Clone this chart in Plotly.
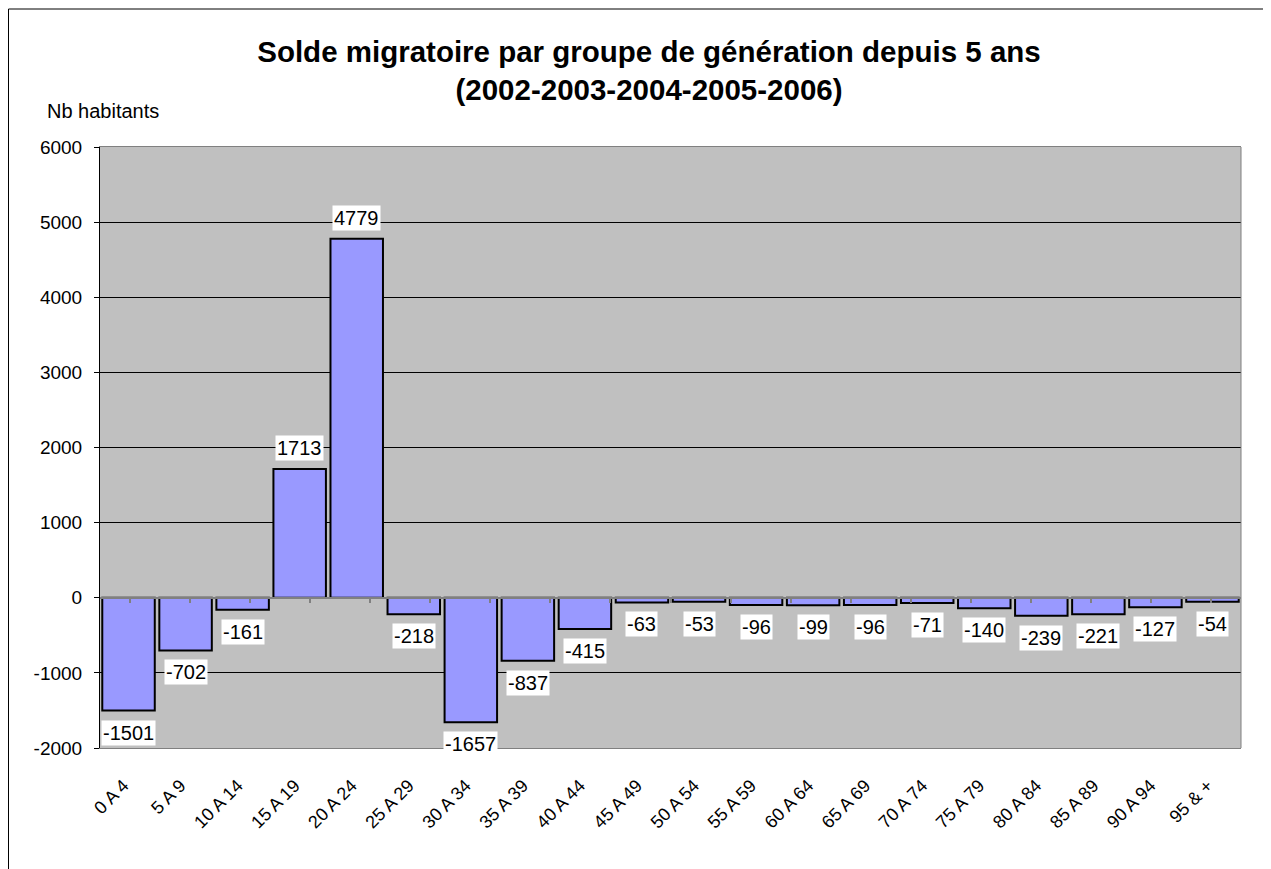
import plotly.graph_objects as go

categories = ["0 A 4", "5 A 9", "10 A 14", "15 A 19", "20 A 24", "25 A 29", "30 A 34",
              "35 A 39", "40 A 44", "45 A 49", "50 A 54", "55 A 59", "60 A 64", "65 A 69",
              "70 A 74", "75 A 79", "80 A 84", "85 A 89", "90 A 94", "95 & +"]
values = [-1501, -702, -161, 1713, 4779, -218, -1657, -837, -415, -63, -53, -96, -99, -96,
          -71, -140, -239, -221, -127, -54]
y_ticks = [-2000, -1000, 0, 1000, 2000, 3000, 4000, 5000, 6000]
y_tick_text = [str(v) for v in y_ticks]

# the page body adds an 8px offset, so the figure is 8px smaller than the window
W, H = 1263, 861
ML, MR, MT, MB = 92, 30, 139, 121
PW, PH = W - ML - MR, H - MT - MB
FONT = "Liberation Sans, Arial, sans-serif"


def px_x(px):
    return (px - ML) / PW


def px_y(py):
    return (H - MB - py) / PH


fig = go.Figure()
fig.add_trace(go.Bar(
    x=categories, y=values,
    marker=dict(color="#9999FF", line=dict(color="black", width=2)),
    hoverinfo="x+y",
))
# invisible trace for the category axis crossing at zero
fig.add_trace(go.Scatter(x=categories, y=values, mode="none", xaxis="x2",
                         hoverinfo="skip", showlegend=False))

for c, v in zip(categories, values):
    fig.add_annotation(x=c, y=v, text=str(v), showarrow=False,
                       yshift=21 if v > 0 else -22,
                       bgcolor="white", borderpad=1,
                       font=dict(family=FONT, size=20, color="black"))

fig.add_annotation(xref="paper", yref="paper", x=px_x(37), y=px_y(103),
                   xanchor="left", yanchor="middle", showarrow=False,
                   text="Nb habitants", font=dict(family=FONT, size=20, color="black"))

# outer chart frame
fig.add_shape(type="rect", xref="paper", yref="paper",
              x0=px_x(0.5), x1=1.2, y0=px_y(1), y1=-0.5,
              line=dict(color="black", width=1), fillcolor="rgba(0,0,0,0)", layer="below")
# right border of plot area
fig.add_shape(type="line", xref="paper", yref="paper", x0=1, x1=1, y0=0, y1=1,
              line=dict(color="#808080", width=1))

fig.update_layout(
    width=W, height=H,
    margin=dict(l=ML, r=MR, t=MT, b=MB, pad=0),
    paper_bgcolor="white", plot_bgcolor="#C0C0C0",
    bargap=0.08, showlegend=False,
    font=dict(family=FONT, color="black"),
    title=dict(text="<b>Solde migratoire par groupe de génération depuis 5 ans<br>(2002-2003-2004-2005-2006)</b>",
               x=641 / W, xanchor="center", y=1 - 54 / H, yanchor="top",
               font=dict(family=FONT, size=29.5, color="black")),
    xaxis=dict(type="category", tickangle=-45, showgrid=False, zeroline=False,
               showline=True, linecolor="#808080", linewidth=1, mirror=True,
               ticks="outside", ticklen=19, tickcolor="rgba(0,0,0,0)", ticklabelshift=-5,
               tickfont=dict(family=FONT, size=18, color="black")),
    xaxis2=dict(type="category", overlaying="x", anchor="free",
                position=2000 / 8000, showline=True, linecolor="#808080", linewidth=2,
                ticks="outside", ticklen=4, tickcolor="#808080", tickwidth=2,
                tickson="boundaries", showticklabels=False, showgrid=False, zeroline=False),
    yaxis=dict(range=[-2000, 6000], tickvals=y_ticks, ticktext=y_tick_text,
               showgrid=True, gridcolor="black", gridwidth=1, zeroline=False,
               showline=True, linecolor="black", linewidth=1,
               ticks="outside", ticklen=5, tickcolor="black", ticklabelstandoff=8,
               tickfont=dict(family=FONT, size=19, color="black")),
)
fig.write_html("out.html")
